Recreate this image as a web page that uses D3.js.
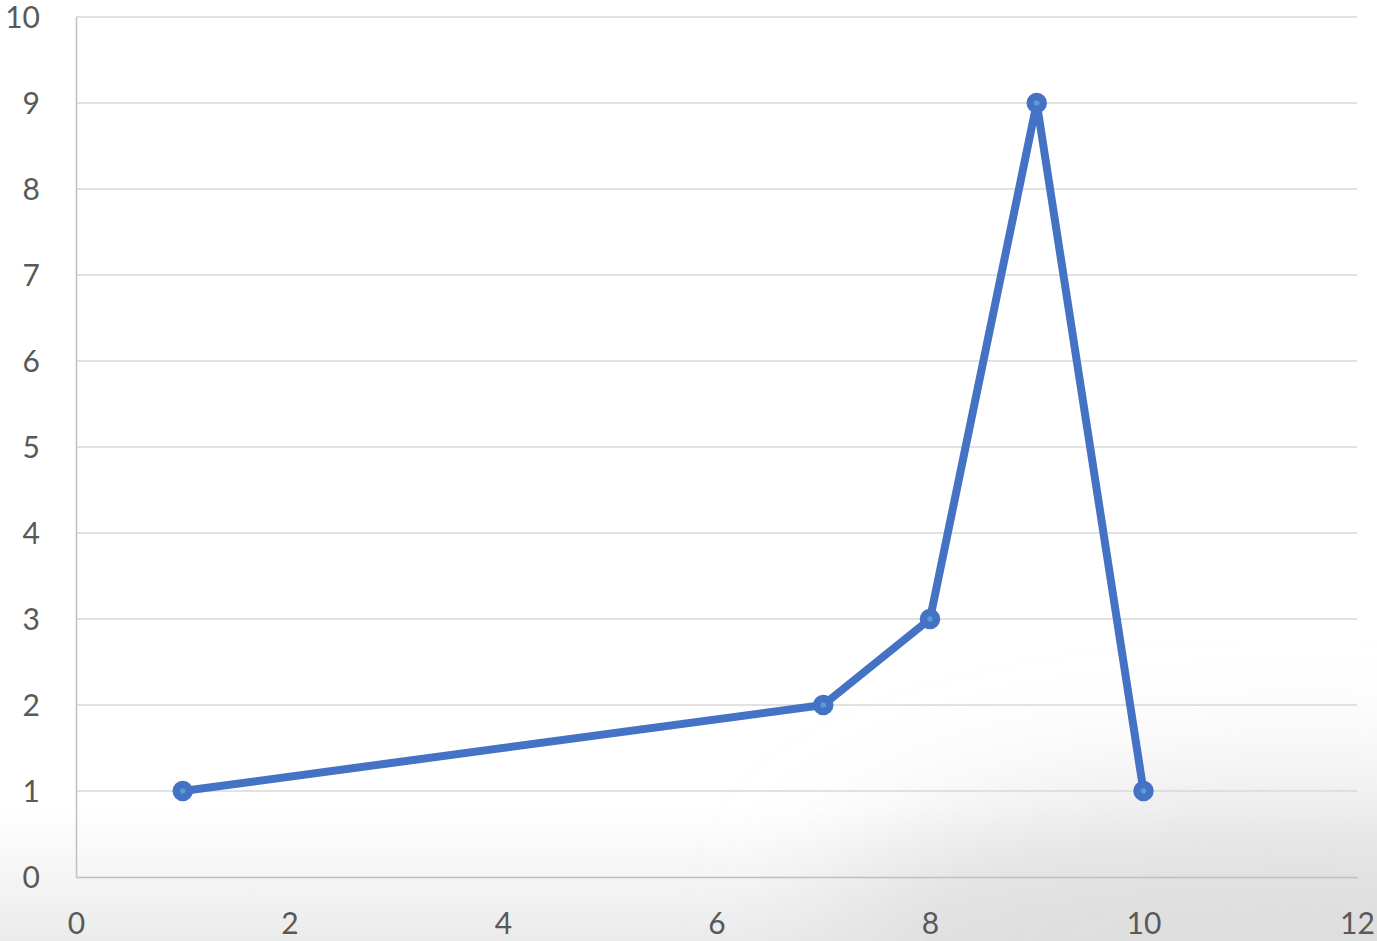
<!DOCTYPE html>
<html><head><meta charset="utf-8">
<script src="https://cdn.jsdelivr.net/npm/d3@7"></script>
<style>body{margin:0;background:#fff;overflow:hidden}svg{display:block}</style>
</head><body>
<svg id="c" width="1377" height="941"></svg>
<script>
const xValues = [1, 7, 8, 9, 10];
const yValues = [1, 2, 3, 9, 1];
const xTicks = [0, 2, 4, 6, 8, 10, 12];
const yTicks = [0, 1, 2, 3, 4, 5, 6, 7, 8, 9, 10];

const svg = d3.select("#c");
const W = 1377, H = 941;
const m = {l: 76, r: 20, t: 17, b: 64};
const x = d3.scaleLinear().domain([0, 12]).range([m.l, W - m.r]);
const y = d3.scaleLinear().domain([0, 10]).range([H - m.b, m.t]);

const defs = svg.append("defs");
const lg = defs.append("linearGradient").attr("id","bg").attr("x1",0).attr("y1",0).attr("x2",0).attr("y2",1);
lg.append("stop").attr("offset","0").attr("stop-color","#ffffff");
lg.append("stop").attr("offset","0.86").attr("stop-color","#ffffff");
lg.append("stop").attr("offset","1").attr("stop-color","#ebebeb");
svg.append("rect").attr("width",W).attr("height",H).attr("fill","url(#bg)");
const f = defs.append("filter").attr("id","blur").attr("x","-50%").attr("y","-50%").attr("width","200%").attr("height","200%");
f.append("feGaussianBlur").attr("stdDeviation",70);
svg.append("ellipse").attr("cx",1300).attr("cy",940).attr("rx",480).attr("ry",150)
  .attr("fill","#dcdcdc").attr("filter","url(#blur)").attr("opacity",0.85);

// gridlines
svg.append("g").selectAll("line").data(yTicks.filter(d=>d>0)).join("line")
  .attr("x1", x(0)).attr("x2", x(12)).attr("y1", d=>y(d)).attr("y2", d=>y(d))
  .attr("stroke","#d9d9d9").attr("stroke-width",1.5);

const font = "Lato, 'Open Sans', sans-serif";
// axes
const yAxis = d3.axisLeft(y).tickValues(yTicks).tickSize(0).tickPadding(36);
const gy = svg.append("g").attr("transform",`translate(${x(0)},0)`).call(yAxis);
gy.select(".domain").attr("stroke","#bfbfbf").attr("stroke-width",1.5);
gy.selectAll("text").attr("font-family",font).attr("font-size",30).attr("fill","#595959").attr("dy","0.34em");

const xAxis = d3.axisBottom(x).tickValues(xTicks).tickSize(0).tickPadding(47);
const gx = svg.append("g").attr("transform",`translate(0,${y(0)})`).call(xAxis);
gx.select(".domain").attr("stroke","#bfbfbf").attr("stroke-width",1.5);
gx.selectAll("text").attr("font-family",font).attr("font-size",30).attr("fill","#595959").attr("dy","0.34em");

const data = xValues.map((d,i)=>({x:d, y:yValues[i]}));
svg.append("path").datum(data)
  .attr("d", d3.line().x(d=>x(d.x)).y(d=>y(d.y)))
  .attr("fill","none").attr("stroke","#4472c4").attr("stroke-width",8).attr("stroke-linejoin","round");
svg.append("g").selectAll("circle").data(data).join("circle")
  .attr("cx",d=>x(d.x)).attr("cy",d=>y(d.y)).attr("r",6.5)
  .attr("fill","#5b9bd5").attr("stroke","#4472c4").attr("stroke-width",7.5);
</script>
</body></html>
